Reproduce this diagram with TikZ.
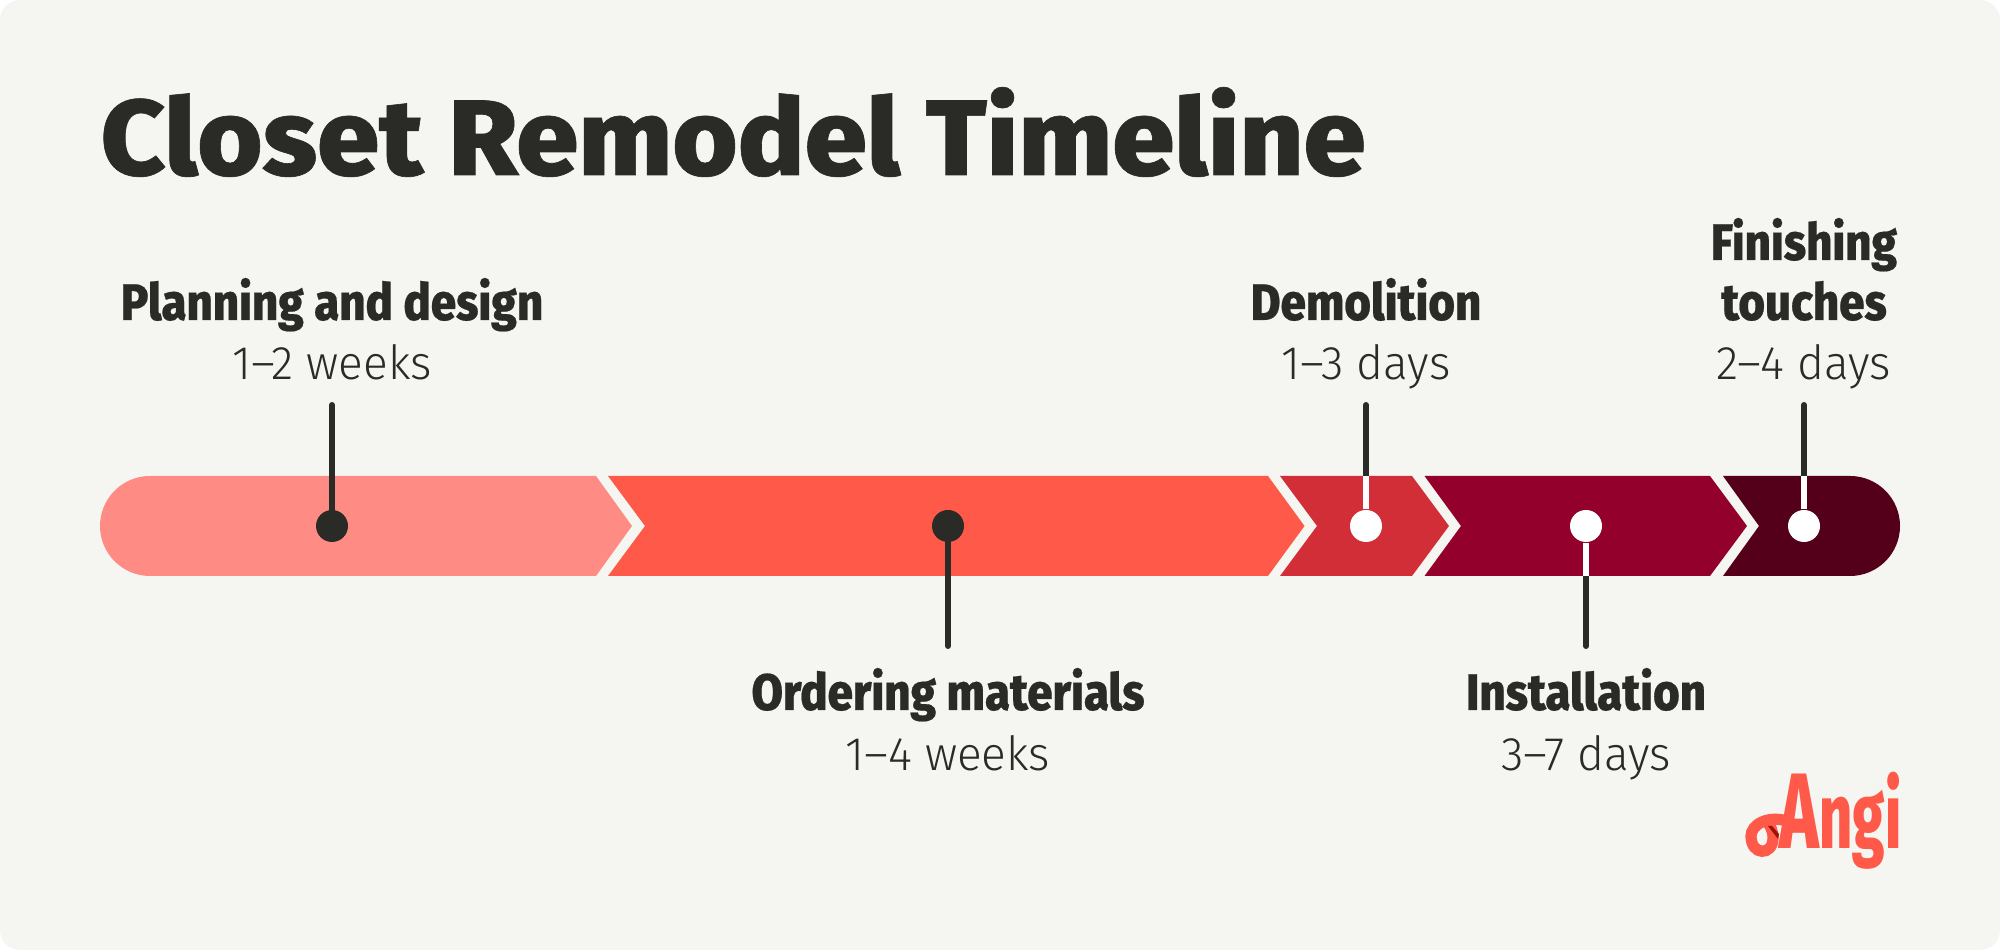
\documentclass[tikz,border=0pt]{standalone}
\usepackage{fontspec}
\usepackage{tikz}
\usetikzlibrary{positioning}
\setmainfont{Fira Sans}
\newfontfamily\titlefont[FakeStretch=1.043,FakeBold=0.6]{Fira Sans ExtraBold}
\newfontfamily\heavyfont[FakeStretch=0.89,FakeBold=0.4]{Fira Sans ExtraBold}
\newfontfamily\lightfont[FakeStretch=0.977]{Fira Sans Light}
\newfontfamily\logofont[FakeStretch=0.62]{Fira Sans ExtraBold}
\definecolor{paper}{HTML}{F5F5F1}
\definecolor{ink}{HTML}{2A2A27}
\definecolor{salmon}{HTML}{FF8C84}
\definecolor{coral}{HTML}{FF5949}
\definecolor{brick}{HTML}{D22E38}
\definecolor{wine}{HTML}{93002C}
\definecolor{plum}{HTML}{55001A}
\definecolor{fold}{HTML}{A01208}
\tikzset{
  headline/.style={anchor=base,font=\heavyfont\fontsize{14.6}{14.6}\selectfont,text=ink,inner sep=0pt},
  duration/.style={anchor=base,font=\lightfont\fontsize{13.4}{13.4}\selectfont,text=ink,inner sep=0pt},
  pindark/.style={draw=ink,line width=1.7pt,line cap=round},
  pinwhite/.style={draw=white,line width=1.7pt},
  dotdark/.style={circle,fill=ink,inner sep=0pt,minimum size=0.32cm},
  dotwhite/.style={circle,fill=white,inner sep=0pt,minimum size=0.32cm},
}
\begin{document}
\begin{tikzpicture}
  \useasboundingbox (0,0) rectangle (20,9.5);
  \fill[white] (0,0) rectangle (20,9.5);
  \fill[paper,rounded corners=0.2cm] (0,0) rectangle (20,9.5);

  \node[anchor=base west,inner sep=0pt,text=ink,font=\titlefont\fontsize{30.5}{30.5}\selectfont] (title) at (1,7.75) {Closet Remodel Timeline};

  % bar
  \fill[salmon] (5.96,4.74) -- (6.32,4.24) -- (5.96,3.74) -- (1.5,3.74) arc[start angle=270,end angle=90,radius=0.5] -- cycle;
  \fill[coral] (6.08,4.74) -- (12.68,4.74) -- (13.045,4.24) -- (12.68,3.74) -- (6.08,3.74) -- (6.45,4.24) -- cycle;
  \fill[brick] (12.80,4.74) -- (14.12,4.74) -- (14.49,4.24) -- (14.12,3.74) -- (12.80,3.74) -- (13.17,4.24) -- cycle;
  \fill[wine] (14.245,4.74) -- (17.10,4.74) -- (17.47,4.24) -- (17.10,3.74) -- (14.245,3.74) -- (14.61,4.24) -- cycle;
  \fill[plum] (17.23,4.74) -- (18.5,4.74) arc[start angle=90,end angle=-90,radius=0.5] -- (17.23,3.74) -- (17.59,4.24) -- cycle;

  % labels
  \node[headline] (plan) at (3.32,6.30) {Planning and design};
  \node[duration] (plantime) at (3.32,5.70) {1–2 weeks};
  \node[headline] (order) at (9.48,2.40) {Ordering materials};
  \node[duration] (ordertime) at (9.48,1.79) {1–4 weeks};
  \node[headline] (demo) at (13.66,6.30) {Demolition};
  \node[duration] (demotime) at (13.66,5.70) {1–3 days};
  \node[headline] (install) at (15.86,2.40) {Installation};
  \node[duration] (installtime) at (15.86,1.79) {3–7 days};
  \node[headline] (finish) at (18.04,6.90) {Finishing};
  \node[headline] (touch) at (18.04,6.30) {touches};
  \node[duration] (finishtime) at (18.04,5.70) {2–4 days};

  % pins
  \node[dotdark] (plandot) at (3.32,4.24) {};
  \node[dotdark] (orderdot) at (9.48,4.24) {};
  \node[dotwhite] (demodot) at (13.66,4.24) {};
  \node[dotwhite] (installdot) at (15.86,4.24) {};
  \node[dotwhite] (finishdot) at (18.04,4.24) {};
  \coordinate (plantop) at (3.32,5.45);
  \coordinate (orderend) at (9.48,3.04);
  \coordinate (demotop) at (13.66,5.45);
  \coordinate (demoedge) at (13.66,4.74);
  \coordinate (installend) at (15.86,3.04);
  \coordinate (installedge) at (15.86,3.74);
  \coordinate (finishtop) at (18.04,5.45);
  \coordinate (finishedge) at (18.04,4.74);
  \draw[pindark] (plantop) -- (plandot);
  \draw[pindark] (orderend) -- (orderdot);
  \draw[pindark] (demotop) -- (demoedge);
  \draw[pinwhite] (demoedge) -- (demodot);
  \draw[pindark] (installend) -- (installedge);
  \draw[pinwhite] (installedge) -- (installdot);
  \draw[pindark] (finishtop) -- (finishedge);
  \draw[pinwhite] (finishedge) -- (finishdot);

  % logo
  \node[anchor=base east,inner sep=0pt,text=coral,font=\logofont\fontsize{26.5}{26.5}\selectfont] (logo) at (19.02,1.01) {{\fontsize{30.5}{30.5}\selectfont A}ngi};
  \draw[coral,line width=3.2pt] (17.9,1.28) .. controls (17.68,1.36) and (17.51,1.25) .. (17.51,1.14) .. controls (17.51,0.94) and (17.73,0.94) .. (17.73,1.12) .. controls (17.73,1.2) and (17.7,1.25) .. (17.66,1.29);
  \fill[fold] (17.68,1.24) -- (17.72,1.24) -- (17.79,1.16) -- (17.78,1.11) -- cycle;
\end{tikzpicture}
\end{document}
